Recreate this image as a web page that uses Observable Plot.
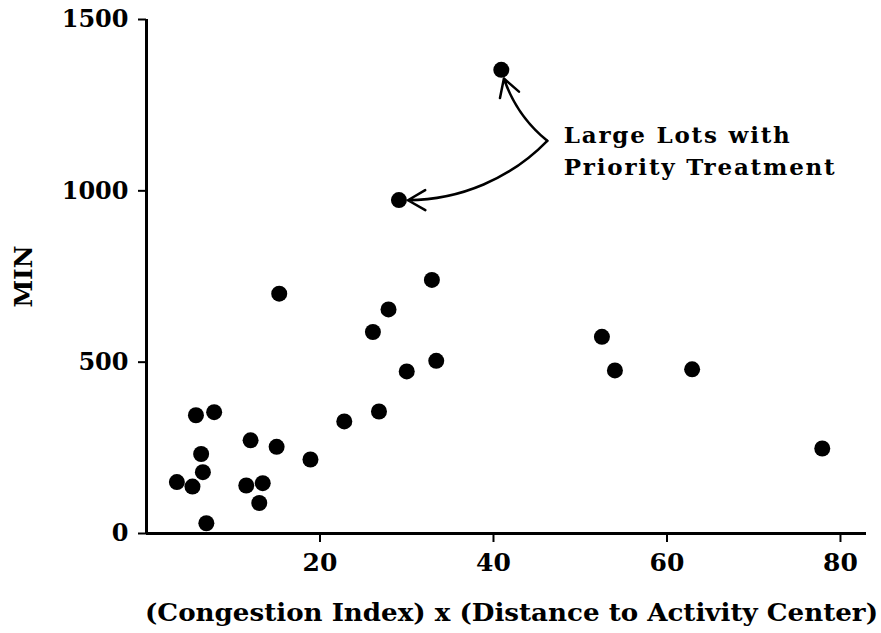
<!DOCTYPE html>
<html><head><meta charset="utf-8">
<script src="https://cdn.jsdelivr.net/npm/d3@7"></script>
<script src="https://cdn.jsdelivr.net/npm/@observablehq/plot@0.6"></script>
<style>
html,body{margin:0;padding:0;background:#fff;}
</style></head><body><div id="chart"></div>
<script>
// Data
const xValues = [3.5, 5.3, 5.7, 7.8, 6.3, 6.5, 6.9, 11.5, 13.4, 13.0, 12.0, 15.0, 15.3, 18.9, 22.8, 26.8, 26.1, 27.9, 30.0, 32.9, 33.4, 29.1, 40.9, 52.5, 54.0, 62.9, 77.9];
const minValues = [150, 137, 345, 354, 232, 179, 30, 140, 147, 89, 272, 253, 700, 216, 327, 356, 588, 654, 473, 740, 504, 973, 1353, 574, 476, 479, 248];
const xTicks = [20, 40, 60, 80];
const yTicks = [0, 500, 1000, 1500];
const xDomain = [0, 83];
const yDomain = [0, 1500];
const xLabel = "(Congestion Index) x (Distance to Activity Center)";
const yLabel = "MIN";
const noteLines = ["Large Lots with", "Priority Treatment"];
const noteX = [48.1];
const noteY = [1123];
const arrowStartX = [46.2];
const arrowStartY = [1146];
const highlighted = [22, 21]; // indices of the "large lots" points

const points = xValues.map((x, i) => ({x, y: minValues[i]}));
const arrowUp = [{x1: arrowStartX[0], y1: arrowStartY[0], x2: xValues[highlighted[0]], y2: minValues[highlighted[0]]}];
const arrowDown = [{x1: arrowStartX[0], y1: arrowStartY[0], x2: xValues[highlighted[1]], y2: minValues[highlighted[1]]}];
const note = [{x: noteX[0], y: noteY[0], text: noteLines.join("\n")}];

const FONT = "'DejaVu Serif', serif";

const chart = Plot.plot({
  width: 881,
  height: 633,
  marginLeft: 146,
  marginRight: 15,
  marginTop: 19,
  marginBottom: 100,
  style: {fontFamily: FONT, fontWeight: "bold", background: "#fff", color: "#000"},
  x: {domain: xDomain},
  y: {domain: yDomain},
  marks: [
    Plot.axisY({ticks: yTicks, tickFormat: d => String(d), tickSize: 8, tickPadding: 10, strokeWidth: 2, fontSize: 24, fontWeight: "bold",
      label: yLabel, labelAnchor: "center", labelOffset: 132}),
    Plot.axisX({ticks: xTicks, tickFormat: d => String(d), tickSize: 9, tickPadding: 11, strokeWidth: 2, fontSize: 25, fontWeight: "bold",
      label: xLabel, labelAnchor: "center", labelOffset: 87}),
    Plot.ruleX([0], {strokeWidth: 3}),
    Plot.ruleY([0], {strokeWidth: 3}),
    Plot.dot(points, {x: "x", y: "y", r: 8, fill: "#000", stroke: "none"}),
    Plot.arrow(arrowUp, {x1: "x1", y1: "y1", x2: "x2", y2: "y2", bend: 18, insetEnd: 9, strokeWidth: 2.5, headLength: 12, stroke: "#000"}),
    Plot.arrow(arrowDown, {x1: "x1", y1: "y1", x2: "x2", y2: "y2", bend: 24, insetEnd: 9, strokeWidth: 2.5, headLength: 12, stroke: "#000"}),
    Plot.text(note, {x: "x", y: "y", text: "text", textAnchor: "start", lineAnchor: "middle", lineHeight: 1.4, fontSize: 23, fontWeight: "bold", fill: "#000"})
  ]
});
document.getElementById("chart").appendChild(chart);
const svg = d3.select(chart);
svg.selectAll("[aria-label='y-axis label'] text").text(yLabel).attr("font-size", 25).attr("font-weight", "bold");
svg.selectAll("[aria-label='x-axis label'] text").text(xLabel).attr("font-size", 24).attr("font-weight", "bold")
  .attr("textLength", 733).attr("lengthAdjust", "spacingAndGlyphs").attr("dx", 5);
svg.selectAll("[aria-label='text'] text").attr("letter-spacing", 1.8);
</script>
</body></html>
